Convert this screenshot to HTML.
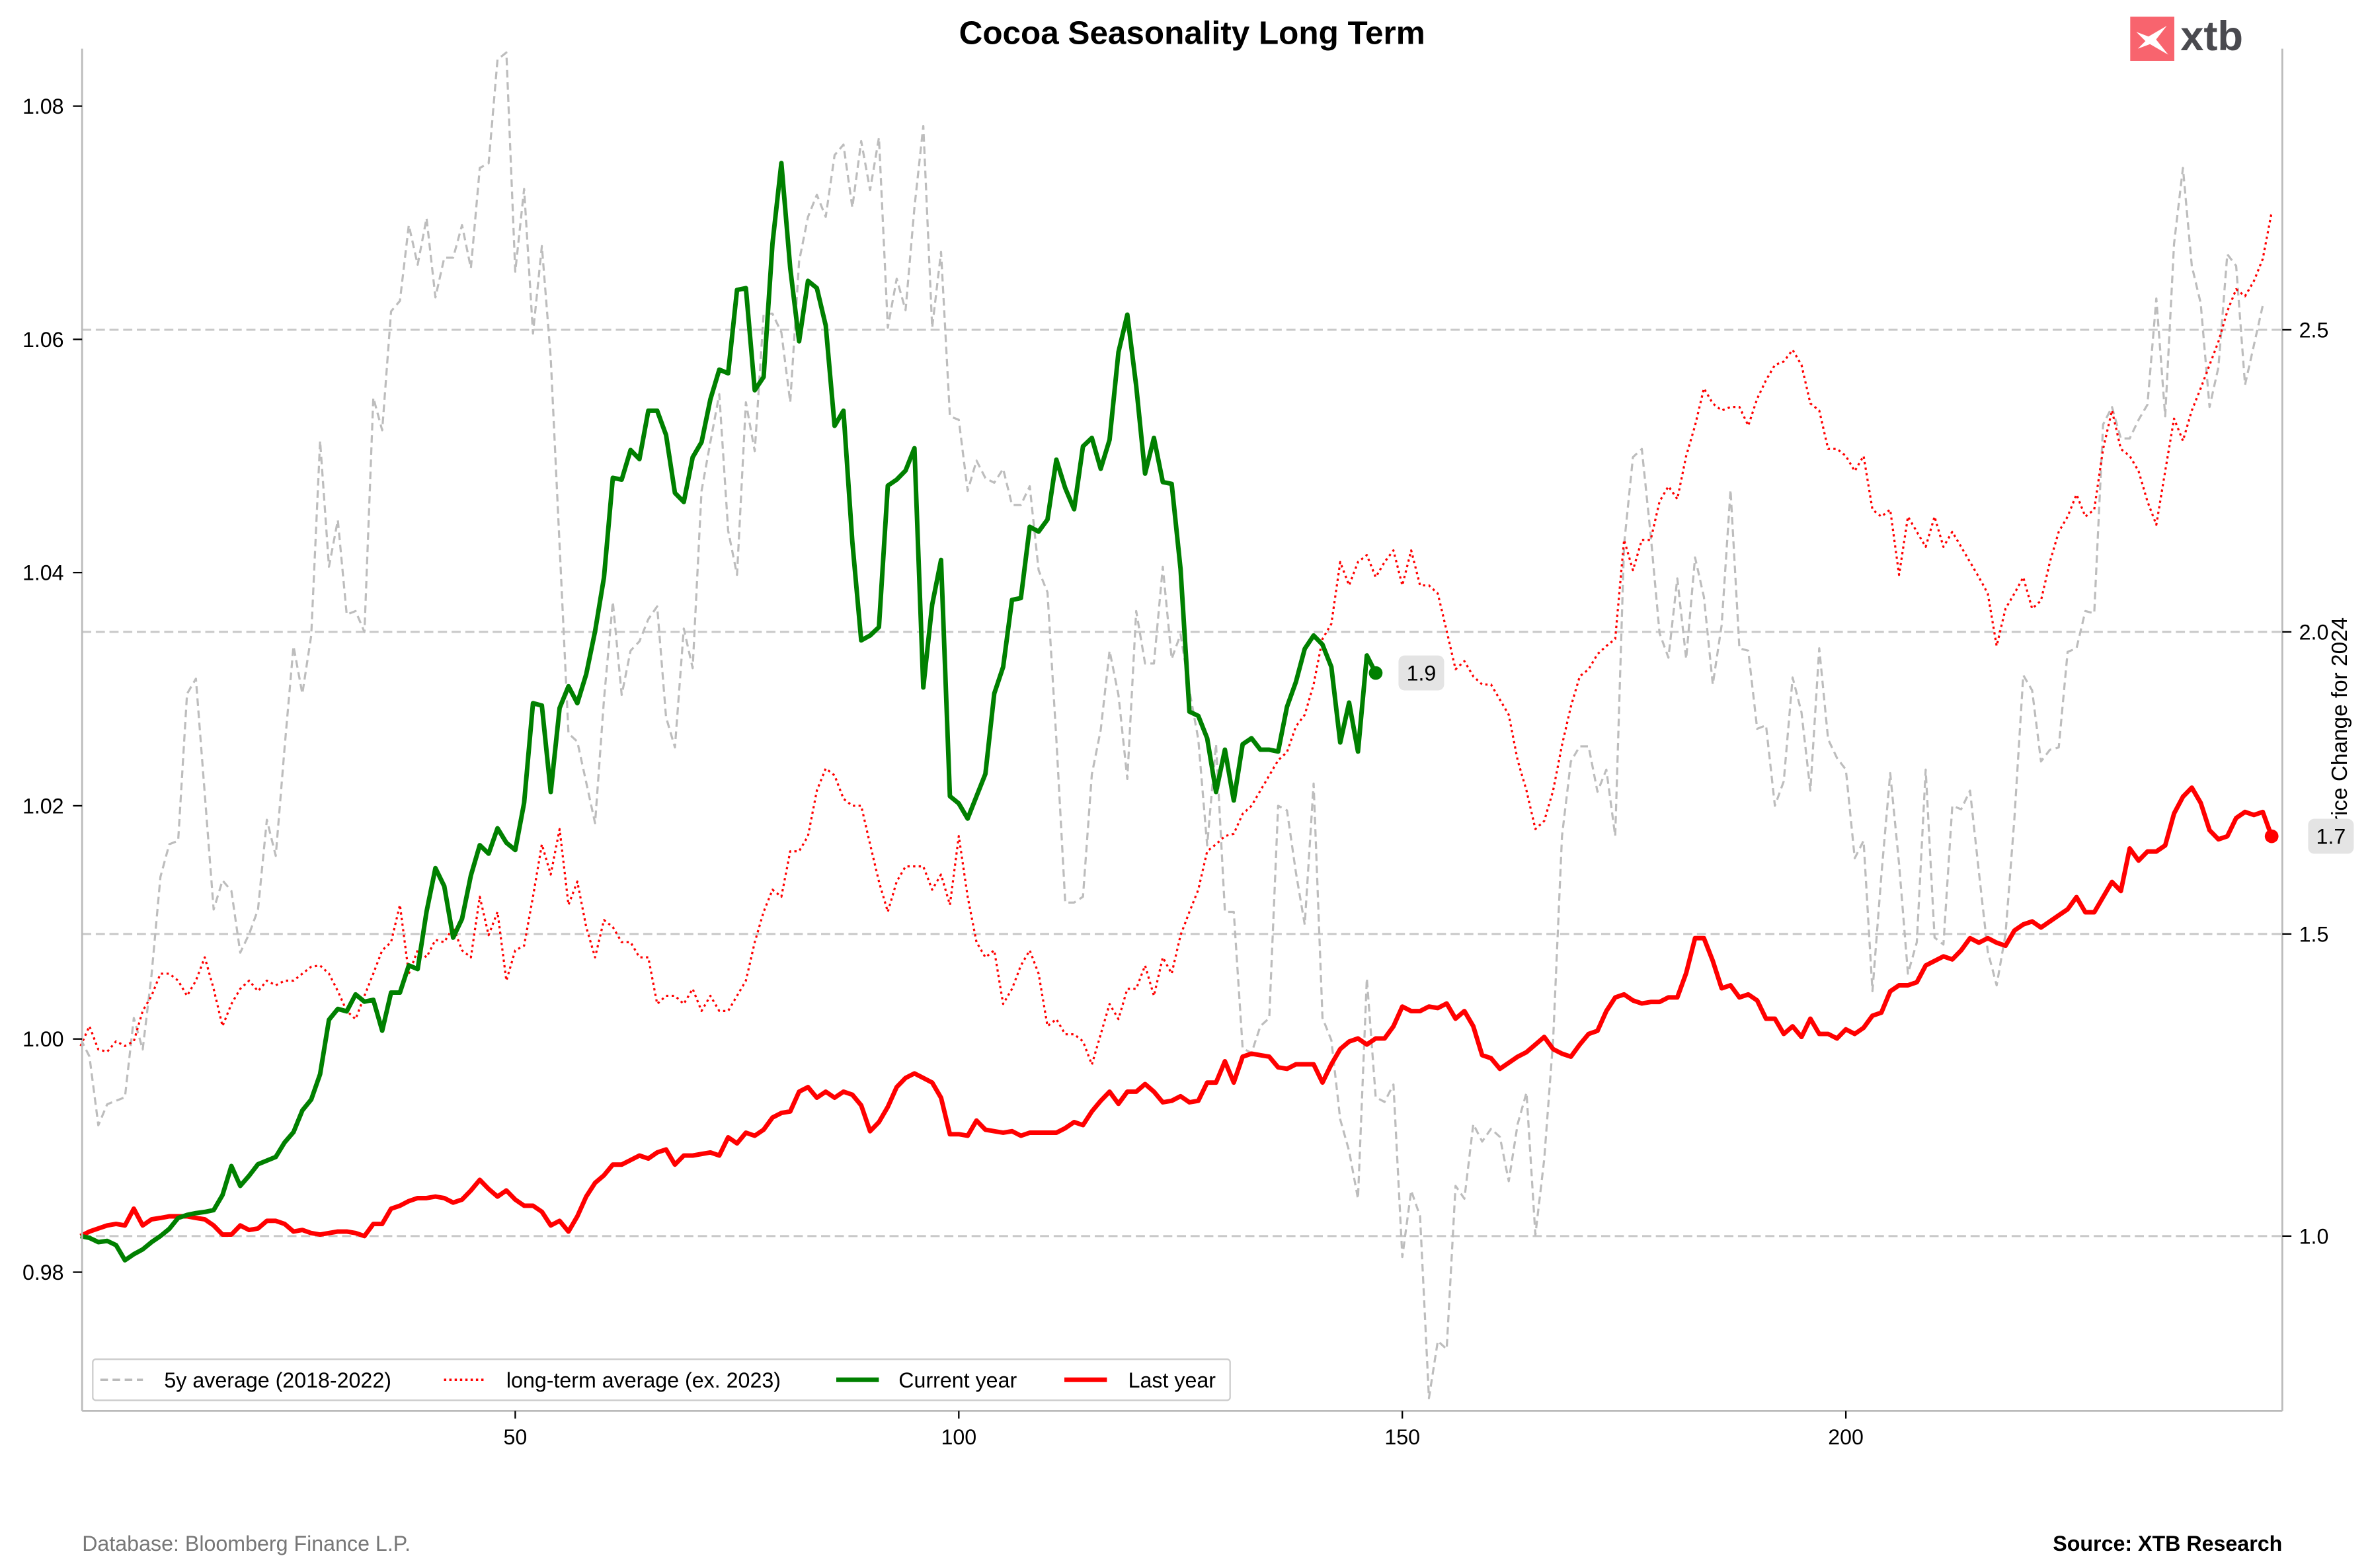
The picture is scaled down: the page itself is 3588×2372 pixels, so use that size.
<!DOCTYPE html>
<html><head><meta charset="utf-8"><style>
html,body{margin:0;padding:0;background:#fff;}
svg{display:block;font-family:"Liberation Sans",Arial,sans-serif;}
</style></head><body>
<svg id="chart" width="3588" height="2372" viewBox="0 0 1560 1031.3" xmlns="http://www.w3.org/2000/svg">
<rect x="0" y="0" width="1560" height="1031.3" fill="#fff"/>
<text x="784" y="29" text-anchor="middle" font-size="21.5" font-weight="bold">Cocoa Seasonality Long Term</text>
<g>
<rect x="1401" y="11" width="29" height="29" fill="#f8646e"/>
<path d="M1405 21 L1413 24 L1425 17 L1418 26 L1426 36 L1414 29 L1406 32 L1411 27 Z" fill="#fff"/>
<text x="1434" y="33" font-size="27.5" font-weight="bold" fill="#4a4a4f">xtb</text>
</g>
<g id="grid"></g>
<g id="series"></g>
<g id="axes"></g>
<g id="legend">
<rect x="61" y="894" width="748" height="27" fill="#fff" stroke="#ccc" rx="2"/>
<line x1="66" y1="907.5" x2="94" y2="907.5" stroke="#bbb" stroke-width="1.5" stroke-dasharray="5,3"/>
<text x="108" y="912.5" font-size="14">5y average (2018-2022)</text>
<line x1="292" y1="907.5" x2="320" y2="907.5" stroke="red" stroke-width="1.5" stroke-dasharray="1.5,2"/>
<text x="333" y="912.5" font-size="14">long-term average (ex. 2023)</text>
<line x1="550" y1="907.5" x2="578" y2="907.5" stroke="green" stroke-width="3"/>
<text x="591" y="912.5" font-size="14">Current year</text>
<line x1="700" y1="907.5" x2="728" y2="907.5" stroke="red" stroke-width="3"/>
<text x="742" y="912.5" font-size="14">Last year</text>
</g>
<text x="54" y="1020" font-size="14" fill="#777">Database: Bloomberg Finance L.P.</text>
<text x="1501" y="1020" font-size="14" font-weight="bold" text-anchor="end">Source: XTB Research</text>
</svg>
<script>
const fiveYearAvg=[1.0000,.9985,.9926,.9944,.9947,.9950,1.0018,.9991,1.0055,1.0139,1.0167,1.0170,1.0296,1.0309,1.0210,1.0111,1.0136,1.0127,1.0074,1.0090,1.0111,1.0188,1.0157,1.0250,1.0337,1.0296,1.0346,1.0513,1.0405,1.0445,1.0364,1.0367,1.0349,1.0550,1.0522,1.0624,1.0633,1.0698,1.0664,1.0704,1.0636,1.0670,1.0670,1.0698,1.0661,1.0747,1.0751,1.0840,1.0846,1.0658,1.0729,1.0605,1.0680,1.0584,1.0423,1.0262,1.0255,1.0220,1.0185,1.0291,1.0375,1.0295,1.0333,1.0341,1.0360,1.0371,1.0276,1.0250,1.0352,1.0318,1.0470,1.0512,1.0553,1.0436,1.0398,1.0546,1.0504,1.0622,1.0622,1.0606,1.0546,1.0667,1.0705,1.0724,1.0705,1.0758,1.0767,1.0713,1.0770,1.0728,1.0773,1.0610,1.0652,1.0625,1.0713,1.0783,1.0610,1.0675,1.0534,1.0531,1.0470,1.0496,1.0481,1.0477,1.0489,1.0458,1.0458,1.0474,1.0402,1.0383,1.0257,1.0117,1.0117,1.0122,1.0227,1.0265,1.0333,1.0295,1.0223,1.0367,1.0322,1.0322,1.0405,1.0326,1.0347,1.0299,1.0257,1.0166,1.0253,1.0109,1.0109,.9992,.9988,1.0011,1.0018,1.0200,1.0196,1.0143,1.0098,1.0219,1.0018,.9999,.9931,.9904,.9863,1.0052,.9950,.9946,.9961,.9813,.9870,.9848,.9692,.9741,.9734,.9874,.9863,.9927,.9912,.9923,.9916,.9878,.9927,.9954,.9832,.9897,.9999,1.0174,1.0238,1.0251,1.0251,1.0212,1.0231,1.0174,1.0424,1.0499,1.0506,1.0432,1.0348,1.0327,1.0395,1.0326,1.0413,1.0379,1.0304,1.0355,1.0471,1.0335,1.0333,1.0266,1.0269,1.0200,1.0221,1.0310,1.0280,1.0213,1.0335,1.0257,1.0241,1.0231,1.0155,1.0170,1.0041,1.0140,1.0228,1.0150,1.0056,1.0083,1.0231,1.0087,1.0081,1.0200,1.0197,1.0213,1.0143,1.0075,1.0046,1.0090,1.0189,1.0312,1.0299,1.0238,1.0248,1.0250,1.0332,1.0335,1.0367,1.0365,1.0527,1.0542,1.0515,1.0515,1.0531,1.0544,1.0635,1.0534,1.0682,1.0747,1.0663,1.0631,1.0542,1.0576,1.0673,1.0663,1.0561,1.0595,1.0629];
const longTermAvg=[.9994,1.0011,.9991,.9989,.9998,.9994,.9998,1.0024,1.0037,1.0056,1.0056,1.0050,1.0037,1.0050,1.0070,1.0043,1.0011,1.0030,1.0043,1.0050,1.0041,1.0050,1.0046,1.0050,1.0050,1.0056,1.0062,1.0063,1.0056,1.0041,1.0024,1.0017,1.0037,1.0056,1.0076,1.0083,1.0115,1.0056,1.0076,1.0070,1.0085,1.0083,1.0096,1.0076,1.0070,1.0122,1.0089,1.0109,1.0050,1.0076,1.0080,1.0122,1.0167,1.0141,1.0180,1.0115,1.0135,1.0096,1.0070,1.0102,1.0096,1.0083,1.0083,1.0070,1.0070,1.0030,1.0037,1.0037,1.0030,1.0043,1.0024,1.0037,1.0024,1.0024,1.0037,1.0050,1.0083,1.0109,1.0128,1.0122,1.0161,1.0161,1.0174,1.0213,1.0232,1.0226,1.0206,1.0200,1.0200,1.0167,1.0135,1.0109,1.0135,1.0148,1.0148,1.0148,1.0128,1.0141,1.0115,1.0174,1.0122,1.0083,1.0070,1.0076,1.0030,1.0043,1.0063,1.0076,1.0056,1.0011,1.0017,1.0004,1.0004,.9998,.9978,1.0004,1.0030,1.0017,1.0043,1.0043,1.0063,1.0037,1.0070,1.0056,1.0089,1.0109,1.0128,1.0161,1.0167,1.0174,1.0176,1.0193,1.0200,1.0213,1.0226,1.0239,1.0246,1.0268,1.0278,1.0304,1.0343,1.0356,1.0409,1.0389,1.0409,1.0415,1.0396,1.0409,1.0419,1.0389,1.0419,1.0389,1.0389,1.0382,1.0350,1.0317,1.0324,1.0311,1.0304,1.0304,1.0291,1.0278,1.0239,1.0213,1.0180,1.0187,1.0213,1.0252,1.0285,1.0311,1.0317,1.0330,1.0337,1.0343,1.0428,1.0402,1.0428,1.0428,1.0461,1.0474,1.0463,1.0500,1.0526,1.0558,1.0545,1.0539,1.0542,1.0542,1.0526,1.0549,1.0565,1.0578,1.0581,1.0591,1.0578,1.0545,1.0539,1.0506,1.0506,1.0500,1.0487,1.0500,1.0454,1.0448,1.0454,1.0398,1.0448,1.0435,1.0422,1.0448,1.0422,1.0435,1.0422,1.0409,1.0396,1.0382,1.0337,1.0369,1.0382,1.0396,1.0369,1.0376,1.0409,1.0435,1.0448,1.0467,1.0448,1.0454,1.0506,1.0539,1.0506,1.0500,1.0487,1.0461,1.0441,1.0487,1.0532,1.0513,1.0539,1.0558,1.0578,1.0598,1.0624,1.0643,1.0637,1.0650,1.0669,1.0709];
const currentYear=[1.000,.997,.990,.992,.985,.960,.970,.978,.990,1.000,1.012,1.030,1.035,1.038,1.040,1.043,1.068,1.116,1.083,1.100,1.119,1.125,1.131,1.155,1.172,1.208,1.226,1.268,1.358,1.376,1.372,1.400,1.388,1.391,1.340,1.403,1.403,1.448,1.442,1.537,1.609,1.579,1.494,1.525,1.597,1.647,1.633,1.675,1.651,1.639,1.717,1.882,1.878,1.735,1.874,1.910,1.882,1.930,2.001,2.090,2.255,2.252,2.301,2.286,2.366,2.366,2.326,2.230,2.215,2.289,2.314,2.385,2.434,2.428,2.566,2.569,2.400,2.422,2.643,2.776,2.602,2.481,2.581,2.569,2.507,2.341,2.366,2.149,1.986,1.994,2.008,2.242,2.252,2.267,2.304,1.908,2.045,2.119,1.728,1.716,1.691,1.728,1.765,1.898,1.942,2.053,2.056,2.174,2.166,2.186,2.285,2.238,2.203,2.307,2.321,2.270,2.318,2.463,2.525,2.407,2.262,2.321,2.248,2.245,2.104,1.868,1.861,1.824,1.735,1.805,1.721,1.814,1.824,1.805,1.805,1.802,1.876,1.917,1.972,1.994,1.979,1.942,1.817,1.883,1.802,1.961,1.932];
const lastYear=[1.000,1.0075,1.0126,1.0176,1.0201,1.0176,1.0453,1.0176,1.0277,1.030,1.0327,1.0327,1.0327,1.030,1.0277,1.0176,1.0025,1.0025,1.0176,1.0101,1.0126,1.0252,1.0252,1.0201,1.0075,1.0101,1.0050,1.0025,1.0050,1.0075,1.0075,1.0050,1.000,1.0201,1.0201,1.0453,1.0503,1.0579,1.0629,1.0629,1.0654,1.0629,1.0554,1.0604,1.0755,1.0931,1.0780,1.0654,1.0755,1.0604,1.0503,1.0503,1.0403,1.0176,1.0252,1.0075,1.0327,1.0654,1.0881,1.1006,1.1183,1.1183,1.1258,1.1333,1.1283,1.1384,1.1434,1.1183,1.1333,1.1333,1.1359,1.1384,1.1333,1.1635,1.1535,1.1711,1.1661,1.1761,1.1962,1.2038,1.2063,1.2390,1.2466,1.2290,1.2390,1.2290,1.2390,1.2340,1.2164,1.1736,1.1887,1.2139,1.2466,1.2617,1.2692,1.2617,1.2541,1.2290,1.1686,1.1686,1.1661,1.1912,1.1761,1.1736,1.1711,1.1736,1.1661,1.1711,1.1711,1.1711,1.1711,1.1786,1.1887,1.1837,1.2063,1.2239,1.2390,1.2189,1.2390,1.2390,1.2516,1.2390,1.2214,1.2239,1.2315,1.2214,1.2239,1.2541,1.2541,1.2893,1.2541,1.2969,1.3019,1.2994,1.2969,1.2793,1.2768,1.2843,1.2843,1.2843,1.2541,1.2843,1.3095,1.3220,1.3271,1.3170,1.3271,1.3271,1.3472,1.3799,1.3724,1.3724,1.3799,1.3774,1.3850,1.3598,1.3724,1.3472,1.2994,1.2944,1.2768,1.2868,1.2969,1.3044,1.3170,1.3296,1.3095,1.3019,1.2969,1.3170,1.3346,1.3397,1.3724,1.3950,1.4000,1.3900,1.3850,1.3875,1.3875,1.3950,1.3950,1.4353,1.4931,1.4931,1.4554,1.4101,1.4151,1.3950,1.4000,1.3900,1.3598,1.3598,1.3346,1.3472,1.3296,1.3598,1.3346,1.3346,1.3271,1.3422,1.3346,1.3447,1.3648,1.3698,1.4051,1.4151,1.4151,1.4202,1.4478,1.4554,1.4629,1.4579,1.4730,1.4931,1.4856,1.4931,1.4856,1.4806,1.5057,1.5158,1.5208,1.5107,1.5208,1.5309,1.5409,1.5611,1.5359,1.5359,1.5611,1.5862,1.5711,1.6416,1.6215,1.6365,1.6365,1.6466,1.6994,1.7271,1.7422,1.7171,1.6718,1.6567,1.6617,1.6919,1.7020,1.6969,1.7020,1.6617];
const xTicks=[50,100,150,200];
const leftTicks=[0.98,1.00,1.02,1.04,1.06,1.08];
const rightTicks=[1.0,1.5,2.0,2.5];
const leftTickLabels=["0.98","1.00","1.02","1.04","1.06","1.08"];
const rightTickLabels=["1.0","1.5","2.0","2.5"];

const NS="http://www.w3.org/2000/svg";
const PL=54,PR=1501,PT=32,PB=928;
const DAY=5.834;
const xs=d=>53+(d-1)*DAY;
const L0=0.96810,L1=1.08493;
const R0=0.71060,R1=2.96530;
const yl=v=>PB-(v-L0)/(L1-L0)*(PB-PT);
const yr=v=>PB-(v-R0)/(R1-R0)*(PB-PT);
function mk(tag,attrs,parent){const e=document.createElementNS(NS,tag);for(const k in attrs)e.setAttribute(k,attrs[k]);parent.appendChild(e);return e;}
const grid=document.getElementById('grid'),series=document.getElementById('series'),axes=document.getElementById('axes');
rightTicks.forEach(t=>{const l=mk('line',{x1:PL,x2:PR,y1:yr(t),y2:yr(t),stroke:'#c8c8c8','stroke-width':1.3,'stroke-dasharray':'6,3'},grid);

});
function path(arr,ys,attrs,name){const d=arr.map((v,i)=>(i?'L':'M')+xs(i+1).toFixed(2)+' '+ys(v).toFixed(2)).join(' ');
const p=mk('path',Object.assign({d:d,fill:'none','stroke-linejoin':'round'},attrs),series);

return p;}
const cp=mk('clipPath',{id:'plotclip'},series);mk('rect',{x:PL,y:PT,width:PR-PL,height:PB-PT},cp);
path(fiveYearAvg,yl,{stroke:'#bdbdbd','stroke-width':1.4,'stroke-dasharray':'5,3','clip-path':'url(#plotclip)'},'five-year-average-line');
path(longTermAvg,yl,{stroke:'red','stroke-width':1.4,'stroke-dasharray':'1.5,2.2'},'long-term-average-line');
path(lastYear,yr,{stroke:'red','stroke-width':3},'last-year-line');
path(currentYear,yr,{stroke:'green','stroke-width':3},'current-year-line');
const rt=mk('text',{x:1543.5,y:406,'font-size':14.5,'text-anchor':'end',transform:'rotate(-90 1543.5 406)'},series);rt.textContent='Price Change for 2024';


function endMark(arr,color,name,off){const n=arr.length,v=arr[n-1],x=xs(n),y=yr(v);
const c=mk('circle',{cx:x,cy:y,r:4.5,fill:color},series);


const bx=x+off;
const r=mk('rect',{x:bx,y:y-11.5,width:30,height:23,rx:4,fill:'#e4e4e4'},series);


const t=mk('text',{x:bx+15,y:y+5,'font-size':14,'text-anchor':'middle'},series);t.textContent=(Math.round(v*10)/10).toFixed(1);

}
endMark(currentYear,'green','current-year',15);
endMark(lastYear,'red','last-year',24);
[[PL,PT,PL,PB],[PL,PB,PR,PB],[PR,PT,PR,PB]].forEach((s,i)=>{const l=mk('line',{x1:s[0],y1:s[1],x2:s[2],y2:s[3],stroke:'#bbb','stroke-width':1.2},axes);

});
xTicks.forEach(t=>{mk('line',{x1:xs(t),x2:xs(t),y1:PB,y2:PB+5,stroke:'#000'},axes);
const tx=mk('text',{x:xs(t),y:PB+22,'font-size':14,'text-anchor':'middle'},axes);tx.textContent=t;

});
leftTicks.forEach((t,i)=>{mk('line',{x1:PL-6,x2:PL,y1:yl(t),y2:yl(t),stroke:'#000'},axes);
const tx=mk('text',{x:PL-12,y:yl(t)+5,'font-size':14,'text-anchor':'end'},axes);tx.textContent=leftTickLabels[i];

});
rightTicks.forEach((t,i)=>{mk('line',{x1:PR,x2:PR+6,y1:yr(t),y2:yr(t),stroke:'#000'},axes);
const tx=mk('text',{x:PR+11,y:yr(t)+5,'font-size':14},axes);tx.textContent=rightTickLabels[i];

});
</script>
</body></html>
